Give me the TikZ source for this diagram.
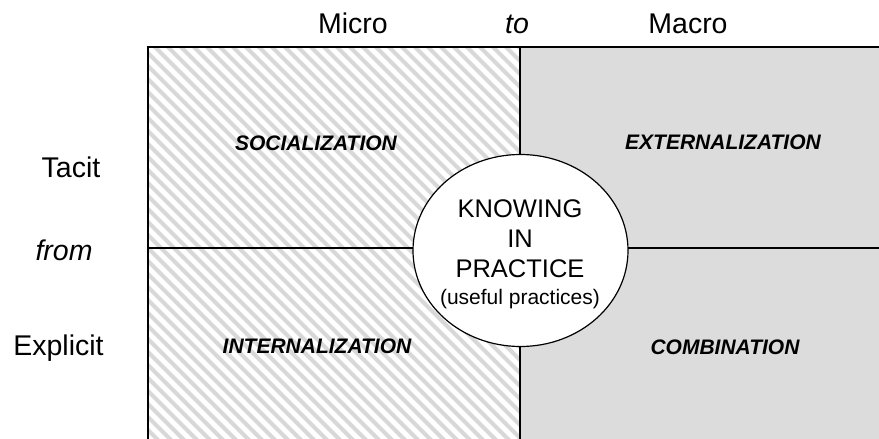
\documentclass[tikz,border=0pt]{standalone}
\usepackage{fontspec}
\setmainfont{Liberation Sans}
\usetikzlibrary{shapes.geometric}
\definecolor{quadgray}{HTML}{DCDCDC}
\definecolor{hatchgray}{HTML}{D8D8D8}
\tikzset{
  axislabel/.style={anchor=base, inner sep=0pt, font=\fontsize{28.5}{30}\selectfont},
  quadlabel/.style={anchor=base, inner sep=0pt, font=\fontsize{21}{23}\selectfont\bfseries\itshape},
  circtext/.style={anchor=base, inner sep=0pt, font=\fontsize{25.5}{27}\selectfont},
  circsmall/.style={anchor=base, inner sep=0pt, font=\fontsize{21}{23}\selectfont},
  frameline/.style={line width=2pt, black},
  gridline/.style={line width=1.2pt, black},
}
\begin{document}
\begin{tikzpicture}[x=1pt,y=-1pt]
\useasboundingbox (0,0) rectangle (879,439);
% coordinates of the matrix
\coordinate (tl) at (148,47);
\coordinate (tm) at (520,47);
\coordinate (tr) at (879,47);
\coordinate (ml) at (148,248);
\coordinate (mr) at (879,248);
\coordinate (bl) at (148,439);
\coordinate (bm) at (520,439);
\coordinate (br) at (879,439);
% right half gray
\fill[quadgray] (tm) rectangle (br);
% left half hatched
\begin{scope}
  \clip (tl) rectangle (bm);
  \foreach \k in {-424,-411,...,540}
    \draw[hatchgray, line width=4pt] (\k,40) -- (\k+420,460);
\end{scope}
% grid lines
\draw[gridline] (tm) -- (bm);
\draw[gridline] (ml) -- (mr);
\draw[frameline] (bl) -- (tl) -- (tr);
% central ellipse
\node[ellipse, draw, fill=white, line width=1.2pt, minimum width=215pt, minimum height=192pt, inner sep=0pt] (kip) at (520.5,250.5) {};
\node[circtext] (k1) at (520,217) {KNOWING};
\node[circtext] (k2) at (520,247) {IN};
\node[circtext] (k3) at (520,277) {PRACTICE};
\node[circsmall] (k4) at (520,304) {(useful practices)};
% top labels
\node[axislabel] (micro) at (353,33) {Micro};
\node[axislabel, font=\fontsize{28.5}{30}\selectfont\itshape] (to) at (517,33) {to};
\node[axislabel] (macro) at (688,33) {Macro};
% side labels
\node[axislabel] (tacit) at (71,177) {Tacit};
\node[axislabel, font=\fontsize{28.5}{30}\selectfont\itshape] (from) at (64,260) {from};
\node[axislabel] (explicit) at (58.5,355) {Explicit};
% quadrant labels
\node[quadlabel] (soc) at (316,150) {SOCIALIZATION};
\node[quadlabel] (ext) at (723,149) {EXTERNALIZATION};
\node[quadlabel] (int) at (317,353) {INTERNALIZATION};
\node[quadlabel] (comb) at (725,354) {COMBINATION};
\end{tikzpicture}
\end{document}
